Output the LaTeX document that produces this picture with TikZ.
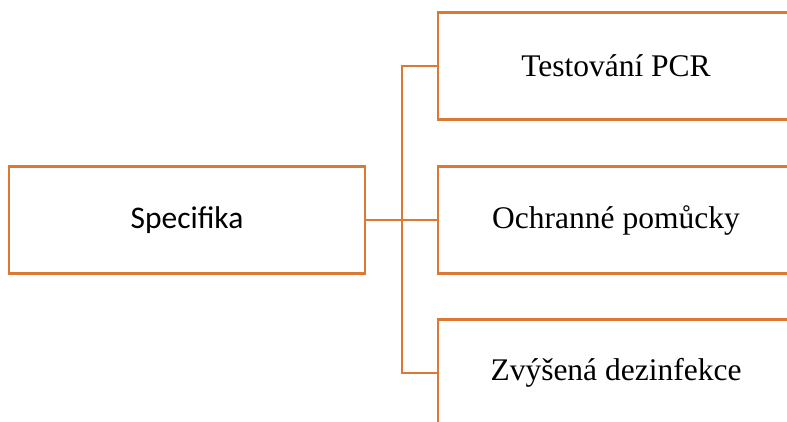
\documentclass[tikz,border=0pt]{standalone}
\usepackage{fontspec}
\setmainfont{Liberation Serif}
\newfontfamily\calibrifont{Carlito}
\definecolor{boxorange}{RGB}{218,120,52}
\begin{document}
\begin{tikzpicture}[x=1pt,y=-1pt,
  box/.style={draw=boxorange, line width=2.4pt, fill=white, rectangle,
    minimum width=356pt, minimum height=107pt, inner sep=0pt, anchor=center},
  conn/.style={draw=boxorange, line width=2.4pt}]
\useasboundingbox (0,0) rectangle (787,421);
\clip (0,0) rectangle (787,421);
\node[box, font=\calibrifont\fontsize{31.5}{36}\selectfont] (spec) at (187,220) {Specifika};
\node[box, font=\fontsize{31.5}{36}\selectfont] (b1) at (616,66) {Testování PCR};
\node[box, font=\fontsize{31.5}{36}\selectfont] (b2) at (616,220) {Ochranné pomůcky};
\node[box, font=\fontsize{31.5}{36}\selectfont] (b3) at (616,373) {Zvýšená dezinfekce};
\coordinate (j) at (402,220);
\draw[conn] (spec.east) -- (b2.west);
\draw[conn] (b1.west) -| (j) |- (b3.west);
\end{tikzpicture}
\end{document}
